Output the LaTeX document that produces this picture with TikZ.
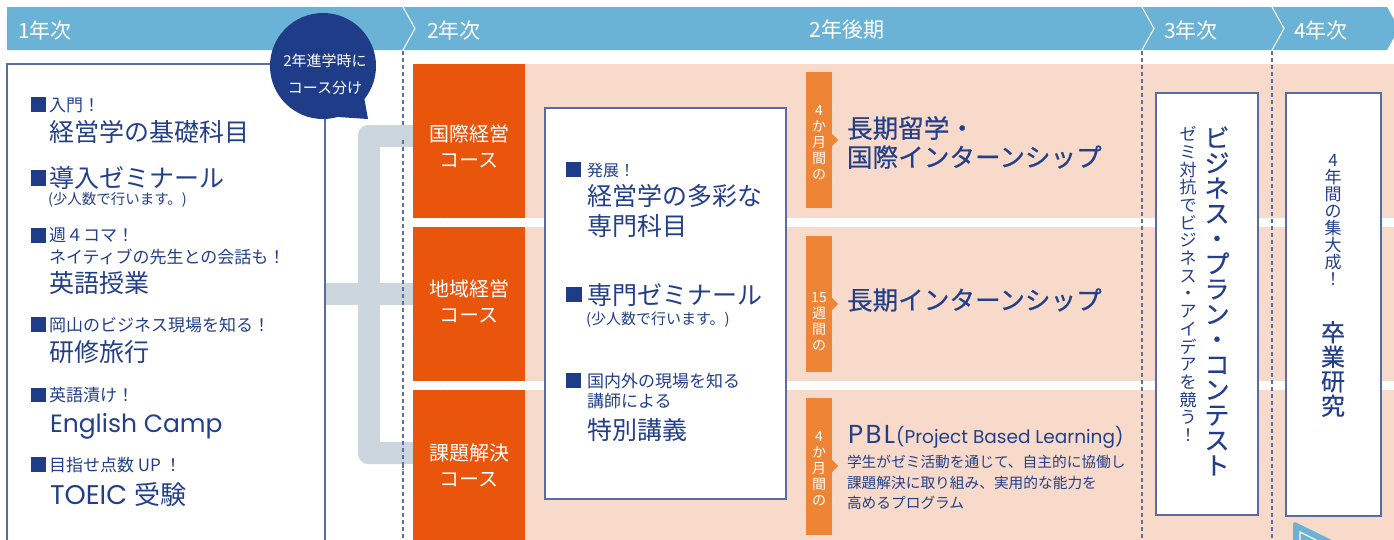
\documentclass[tikz,border=0pt]{standalone}
\usepackage{fontspec}
\setmainfont{Noto Sans CJK JP}
\newfontfamily\jpmed{Noto Sans CJK JP}[FakeBold=0.5]
\newfontfamily\latinf{Poppins}
\newcommand{\jfs}[1]{\fontsize{#1}{#1}\selectfont}
\definecolor{barblue}{HTML}{6BB3D6}
\definecolor{navy}{HTML}{1F3C88}
\definecolor{txtnavy}{HTML}{233F8A}
\definecolor{courseor}{HTML}{E9550B}
\definecolor{tagor}{HTML}{EE8536}
\definecolor{peach}{HTML}{F8DACB}
\definecolor{brgray}{HTML}{CBD6DE}
\definecolor{bordercol}{HTML}{5A6AA5}
\definecolor{dashcol}{HTML}{5C6FA8}
\begin{document}
\begin{tikzpicture}[x=1pt,y=-1pt,
  every node/.style={inner sep=0pt,outer sep=0pt},
  barlbl/.style={text=white,anchor=west,font=\jfs{21}},
  jt/.style={text=txtnavy,anchor=west},
  small/.style={jt,font=\jfs{17}},
  big/.style={jt,font=\jfs{25}},
  sqmark/.style={fill=navy},
  boxline/.style={draw=bordercol,line width=1.2pt},
  dashline/.style={draw=dashcol,line width=1.3pt,dash pattern=on 4pt off 3pt},
  coursetxt/.style={text=white,align=center,font=\fontsize{20}{26}\selectfont},
  tagtxt/.style={text=white,align=center,font=\fontsize{14}{16}\selectfont},
  vt/.style={text=txtnavy,align=center}
]
\useasboundingbox (0,0) rectangle (1394,539);
\fill[white] (0,0) rectangle (1394,539);

% ---- top bar
\fill[barblue] (7,7) -- (1387,7) -- (1399,28.5) -- (1387,50) -- (7,50) -- cycle;
\draw[white,line width=1pt] (403,7) -- (415,28.5) -- (403,50);
\draw[white,line width=1pt] (1142,7) -- (1154,28.5) -- (1142,50);
\draw[white,line width=1pt] (1272,7) -- (1284,28.5) -- (1272,50);
\node[barlbl] (y1) at (18,30) {1年次};
\node[barlbl] (y2) at (427,30) {2年次};
\node[barlbl,anchor=center] (y2b) at (847,30) {2年後期};
\node[barlbl] (y3) at (1164,30) {3年次};
\node[barlbl] (y4) at (1294,30) {4年次};

% ---- peach rows
\fill[peach] (525,64) rectangle (1394,218);
\fill[peach] (525,227) rectangle (1394,381);
\fill[peach] (525,390) rectangle (1394,545);

% ---- dashed lines
\draw[dashline] (403,51) -- (403,545);
\draw[dashline] (1142,51) -- (1142,545);
\draw[dashline] (1272,51) -- (1272,545);

% ---- bracket
\fill[brgray,rounded corners=10pt] (358,125) rectangle (440,464);
\fill[white] (380,147) rectangle (440,442);
\fill[brgray] (380,283) rectangle (413,305);
\fill[brgray] (325,283) rectangle (358,305);
\draw[dashline] (403,140) -- (403,470);

% ---- course boxes
\fill[courseor] (413,64) rectangle (525,218);
\fill[courseor] (413,227) rectangle (525,381);
\fill[courseor] (413,390) rectangle (525,545);
\node[coursetxt] (c1) at (469,146.5) {国際経営\\コース};
\node[coursetxt] (c2) at (469,301.5) {地域経営\\コース};
\node[coursetxt] (c3) at (469,465.5) {課題解決\\コース};

% ---- left box
\draw[boxline] (325,560) -- (325,64) -- (7,64) -- (7,560);
\fill[sqmark] (31,97) rectangle (46,112);
\node[small] (l1a) at (49,105) {入門！};
\node[big] (l1b) at (49,132) {経営学の基礎科目};
\fill[sqmark] (31,170) rectangle (46,186);
\node[big] (l2a) at (49,178) {導入ゼミナール};
\node[jt,font=\jfs{14.5}] (l2b) at (48,200) {(少人数で行います。)};
\fill[sqmark] (31,228) rectangle (46,243);
\node[small] (l3a) at (49,235.5) {週４コマ！};
\node[small] (l3b) at (49,257) {ネイティブの先生との会話も！};
\node[big] (l3c) at (49,283) {英語授業};
\fill[sqmark] (31,317) rectangle (46,332);
\node[small] (l4a) at (49,325) {岡山のビジネス現場を知る！};
\node[big] (l4b) at (49,352) {研修旅行};
\fill[sqmark] (31,388) rectangle (46,402);
\node[small] (l5a) at (49,395) {英語漬け！};
\node[jt,anchor=base west,font=\latinf\jfs{25}] (l5b) at (50,432) {English Camp};
\fill[sqmark] (31,457) rectangle (46,472);
\node[small] (l6a) at (49,465) {目指せ点数 UP ！};
\node[jt,anchor=base west] (l6b) at (50,504) {{\latinf\jfs{27}TOEIC}\hspace{7pt}{\jfs{26}受験}};

% ---- bubble
\fill[navy] (323,66) circle[radius=53pt];
\fill[navy] (364,97) -- (368,119) -- (338,117) -- cycle;
\node[text=white,font=\jfs{15}] (b1) at (325,61) {2年進学時に};
\node[text=white,font=\jfs{15}] (b2) at (325,88) {コース分け};

% ---- middle box
\draw[boxline,fill=white] (545,108) rectangle (786,499);
\fill[sqmark] (566,162) rectangle (581,177);
\node[jt,font=\jfs{16}] (m1a) at (587,170) {発展！};
\node[jt,font=\jfs{25}] (m1b) at (587,196) {経営学の多彩な};
\node[jt,font=\jfs{25}] (m1c) at (587,226) {専門科目};
\fill[sqmark] (566,287) rectangle (582,302);
\node[jt,font=\jfs{25}] (m2a) at (587,295) {専門ゼミナール};
\node[jt,font=\jfs{15}] (m2b) at (586,320) {(少人数で行います。)};
\fill[sqmark] (566,373) rectangle (581,388);
\node[small] (m3a) at (587,381) {国内外の現場を知る};
\node[small] (m3b) at (587,401) {講師による};
\node[jt,font=\jfs{25}] (m3c) at (587,430) {特別講義};

% ---- tags
\fill[tagor] (806,72) rectangle (832,208);
\fill[tagor] (832,134) -- (838,140) -- (832,146) -- cycle;
\fill[tagor] (806,236) rectangle (832,372);
\fill[tagor] (832,298) -- (838,304) -- (832,310) -- cycle;
\fill[tagor] (806,398) rectangle (832,535);
\fill[tagor] (832,460) -- (838,466) -- (832,472) -- cycle;
\node[tagtxt] (t1) at (819,143) {4\\か\\月\\間\\の};
\node[tagtxt] (t2) at (819,322) {15\\週\\間\\の};
\node[tagtxt] (t3) at (819,469) {4\\か\\月\\間\\の};

% ---- right texts
\node[jt,font=\jpmed\jfs{25.6}] (r1a) at (847,128) {長期留学・};
\node[jt,font=\jpmed\jfs{25.6}] (r1b) at (847,157) {国際インターンシップ};
\node[jt,font=\jpmed\jfs{25.6}] (r2) at (847,300) {長期インターンシップ};
\node[jt,anchor=base west] (r3a) at (848,443) {{\latinf\jfs{26}P\kern2.5pt B\kern2.5pt L}\kern1pt{\latinf\jfs{18.5}(Project Based Learning)}};
\node[jt,font=\jfs{14.7}] (r3b) at (847,462) {学生がゼミ活動を通じて、自主的に協働し};
\node[jt,font=\jfs{14.7}] (r3c) at (847,483) {課題解決に取り組み、実用的な能力を};
\node[jt,font=\jfs{14.7}] (r3d) at (847,503) {高めるプログラム};

% ---- 3rd / 4th year boxes
\draw[boxline,fill=white] (1156,93) rectangle (1258,515);
\draw[boxline,fill=white] (1286,93) rectangle (1381,516);
\node[vt,font=\jpmed\fontsize{25}{25.2}\selectfont] (v1) at (1217,301) {ビ\\ジ\\ネ\\ス\\・\\プ\\ラ\\ン\\・\\コ\\ン\\テ\\ス\\ト};
\node[vt,font=\fontsize{17}{17.7}\selectfont] (v2) at (1188,284) {ゼ\\ミ\\対\\抗\\で\\ビ\\ジ\\ネ\\ス\\・\\ア\\イ\\デ\\ア\\を\\競\\う\\！};
\node[vt,font=\fontsize{17}{17}\selectfont] (v3) at (1333,220) {4\\年\\間\\の\\集\\大\\成\\！};
\node[vt,font=\jpmed\fontsize{24}{24.5}\selectfont] (v4) at (1333,369) {卒\\業\\研\\究};

% ---- bottom-right arrow
\fill[barblue,rounded corners=3pt] (1293,521) -- (1350,549) -- (1293,577) -- cycle;
\draw[white,line width=1.2pt] (1300,532) -- (1334,549) -- (1300,566) -- cycle;
\end{tikzpicture}
\end{document}
